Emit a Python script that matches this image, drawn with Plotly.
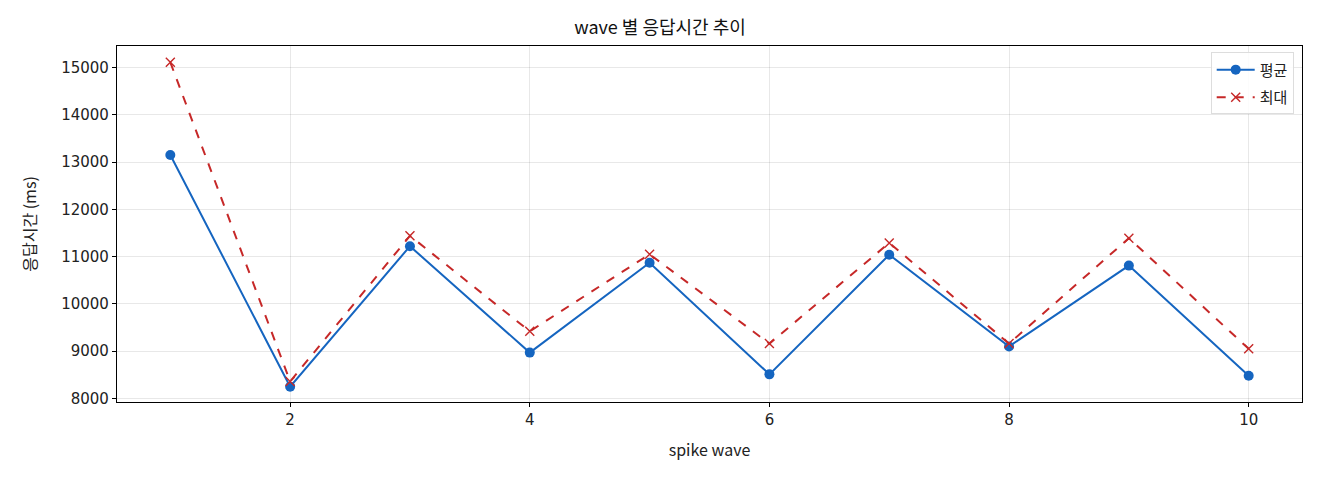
import plotly.graph_objects as go

waves = [1, 2, 3, 4, 5, 6, 7, 8, 9, 10]
avg_ms = [13150, 8250, 11220, 8970, 10870, 8510, 11040, 9100, 10810, 8480]
max_ms = [15110, 8360, 11440, 9420, 11050, 9160, 11290, 9160, 11390, 9050]
x_ticks = [2, 4, 6, 8, 10]
y_ticks = [8000, 9000, 10000, 11000, 12000, 13000, 14000, 15000]

FONT = "Noto Sans CJK KR"
TICKFONT = "DejaVu Sans"
W, H = 1304, 464  # page adds an 8px body margin

fig = go.Figure()
fig.add_trace(go.Scatter(
    x=waves, y=avg_ms, name="평균", mode="lines+markers", legendgroup="avg",
    line=dict(color="#1565C0", width=2),
    marker=dict(symbol="circle", size=10, color="#1565C0"),
))
fig.add_trace(go.Scatter(
    x=waves, y=max_ms, name="최대", mode="lines+markers", legendgroup="max",
    line=dict(color="#C62828", width=2, dash="dash"),
    marker=dict(symbol="x-thin", size=9, color="#C62828",
                line=dict(color="#C62828", width=1.4)),
))

axis_common = dict(
    showline=True, linecolor="black", linewidth=1.2, mirror=True,
    ticks="outside", ticklen=4, tickcolor="black", tickwidth=1,
    showgrid=True, gridcolor="rgba(0,0,0,0.09)", gridwidth=1,
    zeroline=False, tickfont=dict(family=TICKFONT, size=15, color="#222"),
)
fig.update_layout(
    width=W, height=H,
    margin=dict(l=109, r=10, t=38, b=70),
    paper_bgcolor="white", plot_bgcolor="white",
    font=dict(family=FONT, size=15, color="#222"),
    title=dict(text="wave 별 응답시간 추이", x=0.5, xanchor="center",
               y=1 - 20 / H, yanchor="middle",
               font=dict(family=FONT, size=18, color="#111")),
    xaxis=dict(range=[0.555, 10.445], tickvals=x_ticks,
               title=dict(text="spike wave", font=dict(size=16), standoff=16),
               **axis_common),
    yaxis=dict(range=[7925, 15455], tickvals=y_ticks, tickformat="d",
               title=dict(text="응답시간 (ms)", font=dict(size=16), standoff=20),
               **axis_common),
    legend=dict(x=0.993, y=0.982, xanchor="right", yanchor="top",
                bgcolor="rgba(255,255,255,0.85)", bordercolor="#dddddd",
                borderwidth=1, font=dict(family=FONT, size=15),
                itemwidth=38, tracegroupgap=5),
    showlegend=True,
)
fig.write_html("out.html")
